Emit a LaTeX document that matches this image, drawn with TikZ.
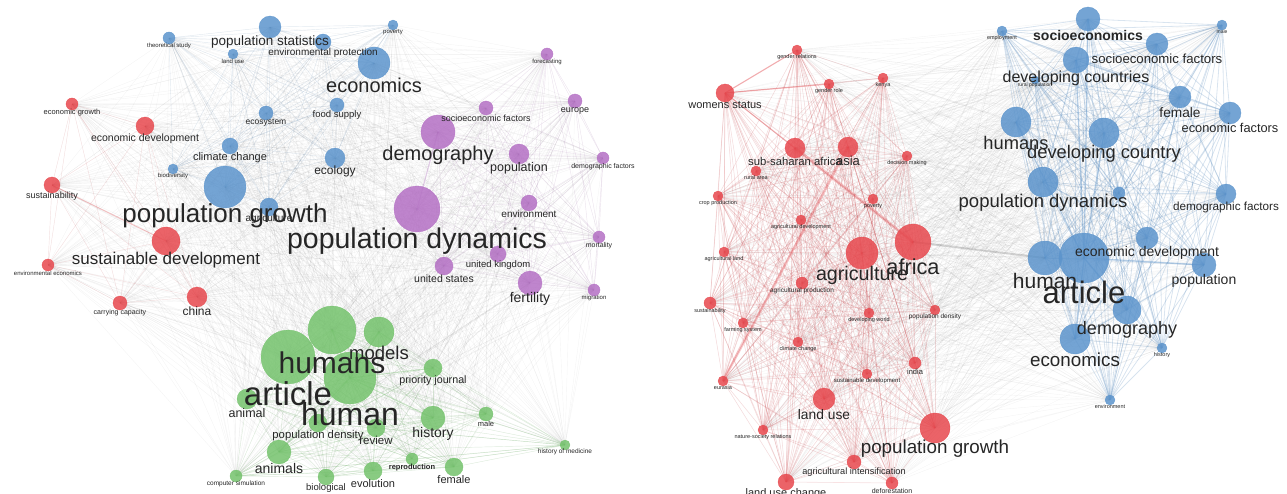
\documentclass[tikz,border=0pt]{standalone}
\usepackage{fontspec}
\setmainfont{Liberation Sans}
\usepackage{tikz}
\usetikzlibrary{positioning,calc}
\pgfdeclarelayer{bg}
\pgfdeclarelayer{fg}
\pgfsetlayers{bg,main,fg}

\definecolor{cB}{RGB}{92,148,204}
\definecolor{cR}{RGB}{231,72,78}
\definecolor{cP}{RGB}{180,112,196}
\definecolor{cG}{RGB}{116,194,108}

\tikzset{
  kw/.style={circle, inner sep=0pt, fill opacity=.85, draw opacity=.9, line width=.3pt},
  lbl/.style={inner sep=0pt, text=black!85},
  gedge/.style={draw=black, opacity=.042, line width=.4pt},
  bedge/.style={draw=cB, opacity=.12, line width=.45pt},
  pedge/.style={draw=cP, opacity=.12, line width=.45pt},
  redge/.style={draw=cR, opacity=.12, line width=.45pt},
  gnedge/.style={draw=cG, opacity=.18, line width=.45pt},
  rbedge/.style={draw=cB, opacity=.2, line width=.8pt},
  rredge/.style={draw=cR, opacity=.14, line width=.6pt}
}

% every pair of a list of keywords
\newcommand\linkall[2]{%
  \foreach \a [count=\i] in #1 {%
    \foreach \b [count=\j] in #1 {%
      \ifnum\j>\i \draw[#2] (\a.center) -- (\b.center);\fi
    }%
  }%
}

\def\lB{tstudy,popstat,envprot,landuse,poverty,econ,food,ecosys,climate,biodiv,ecology,popgrowth,agri}
\def\lP{forecast,europe,sefac,demog,popul,demfac,popdyn,environ,mortal,uk,us,fertil,migr}
\def\lR{econgr,econdev,sustain,susdev,enveco,carry,china}
\def\lG{humans,article,human,models,prior,animal,popdens,review,history,male,histmed,animals,compsim,bio,evol,repro,female}
\edef\lall{\lB,\lP,\lR,\lG}
\def\rR{rgenrel,rgenrole,rkenya,rwomen,rssa,rasia,rdecis,rrural,rcrop,rpov,ragdev,ragland,ragri,rafrica,ragprod,rsustain,rfarm,rdevworld,rpopdens,rclimate,rindia,reurasia,rsusdev,rlanduse,rnature,rpopgr,ragint,rluc,rdefor}
\def\rB{remploy,rsocio,rmale,rsefac,rdevcs,rrurpop,rfemale,recfac,rhumans,rdevcy,rpopdyn,rpovb,rdemfac,recdev,rhuman,rarticle,rpopul,rdemog,recon,rhistory,renviron}
\edef\rall{\rR,\rB}

\begin{document}
\begin{tikzpicture}[x=1pt, y=-1pt]
\useasboundingbox (0,0) rectangle (1287,494);

% keywords: name/x/y/radius/font size/colour/label
\foreach \n/\x/\y/\r/\f/\c/\t in {
  tstudy/169/38/6/6/cB/theoretical study,
  popstat/270/27/11/13.5/cB/population statistics,
  envprot/323/42/8/10/cB/environmental protection,
  landuse/233/54/5/6/cB/land use,
  poverty/393/25/5/6/cB/poverty,
  econ/374/63/16/20/cB/economics,
  food/337/105/7/9.5/cB/food supply,
  ecosys/266/113/7/8.5/cB/ecosystem,
  climate/230/146/8/11/cB/climate change,
  biodiv/173/169/5/6/cB/biodiversity,
  ecology/335/158/10/12/cB/ecology,
  popgrowth/225/187/21/26/cB/population growth,
  agri/269/207/9/10/cB/agriculture,
  forecast/547/54/6/6/cP/forecasting,
  europe/575/101/7/9/cP/europe,
  sefac/486/108/7/9/cP/socioeconomic factors,
  demog/438/132/17/20/cP/demography,
  popul/519/154/10/12.5/cP/population,
  demfac/603/158/6/7/cP/demographic factors,
  popdyn/417/209/23/28.5/cP/population dynamics,
  environ/529/203/8/10/cP/environment,
  mortal/599/237/6/7/cP/mortality,
  uk/498/254/8/9.5/cP/united kingdom,
  us/444/266/9/10.5/cP/united states,
  fertil/530/283/12/14/cP/fertility,
  migr/594/290/6/6/cP/migration,
  econgr/72/104/6/7.5/cR/economic growth,
  econdev/145/126/9/10.5/cR/economic development,
  sustain/52/185/8/9/cR/sustainability,
  susdev/166/241/14/17/cR/sustainable development,
  enveco/48/265/6/6/cR/environmental economics,
  carry/120/303/7/7/cR/carrying capacity,
  china/197/297/10/12/cR/china,
  humans/332/330/24/30/cG/humans,
  article/288/357/27/33/cG/article,
  human/350/378/26/32/cG/human,
  models/379/332/15/18.5/cG/models,
  prior/433/368/9/10.7/cG/priority journal,
  animal/247/399/10/12.5/cG/animal,
  popdens/318/423/9/11.3/cG/population density,
  review/376/428/9/11.5/cG/review,
  history/433/418/12/14/cG/history,
  male/486/414/7/7.5/cG/male,
  histmed/565/445/5/6.5/cG/history of medicine,
  animals/279/452/12/14/cG/animals,
  compsim/236/476/6/6.5/cG/computer simulation,
  bio/326/477/8/9.5/cG/biological,
  evol/373/471/9/11/cG/evolution,
  repro/412/459/6/7.5/cG/\textbf{reproduction},
  female/454/467/9/11/cG/female,
  rgenrel/797/50/5/5.5/cR/gender relations,
  rgenrole/829/84/5/5.5/cR/gender role,
  rkenya/883/78/5/5.5/cR/kenya,
  rwomen/725/93/9/11/cR/womens status,
  rssa/795/148/10/11.3/cR/sub-saharan africa,
  rasia/848/147/10/13/cR/asia,
  rdecis/907/156/5/5.5/cR/decision making,
  rrural/756/171/5/5.5/cR/rural area,
  rcrop/718/196/5/5.5/cR/crop production,
  rpov/873/199/5/5.5/cR/poverty,
  ragdev/801/220/5/5.5/cR/agricultural development,
  ragland/724/252/5/5.5/cR/agricultural land,
  ragri/862/253/16/19.7/cR/agriculture,
  rafrica/913/242/18/21.7/cR/africa,
  ragprod/802/283/6/6.5/cR/agricultural production,
  rsustain/710/303/6/5.5/cR/sustainability,
  rfarm/743/323/5/5.5/cR/farming system,
  rdevworld/869/313/5/5.5/cR/developing world,
  rpopdens/935/310/5/6.5/cR/population density,
  rclimate/798/342/5/5.5/cR/climate change,
  rindia/915/363/6/7.5/cR/india,
  reurasia/723/381/5/5.5/cR/eurasia,
  rsusdev/867/374/5/6/cR/sustainable development,
  rlanduse/824/399/11/13.8/cR/land use,
  rnature/763/430/5/5.5/cR/nature-society relations,
  rpopgr/935/428/15/18.8/cR/population growth,
  ragint/854/462/7/9.2/cR/agricultural intensification,
  rluc/786/482/8/11/cR/land use change,
  rdefor/892/483/6/7/cR/deforestation,
  remploy/1002/31/5/5.5/cB/employment,
  rsocio/1088/19/12/14/cB/\textbf{socioeconomics},
  rmale/1222/25/5/5/cB/male,
  rsefac/1157/44/11/13.2/cB/socioeconomic factors,
  rdevcs/1076/60/13/16/cB/developing countries,
  rrurpop/1035/80/4/5/cB/rural population,
  rfemale/1180/97/11/13.7/cB/female,
  recfac/1230/113/11/12.8/cB/economic factors,
  rhumans/1016/122/15/18.3/cB/humans,
  rdevcy/1104/133/15/18.3/cB/developing country,
  rpopdyn/1043/182/15/18.5/cB/population dynamics,
  rpovb/1119/193/6/5/cB/{},
  rdemfac/1226/194/10/11.7/cB/demographic factors,
  recdev/1147/238/11/14/cB/economic development,
  rhuman/1045/258/17/21/cB/human,
  rarticle/1084/258/25/31/cB/article,
  rpopul/1204/265/12/14/cB/population,
  rdemog/1127/310/14/18/cB/demography,
  recon/1075/339/15/18.8/cB/economics,
  rhistory/1162/348/5/5.5/cB/history,
  renviron/1110/400/5/5.5/cB/environment}{
  \node[kw, fill=\c, draw=\c, minimum size=2*\r pt] (\n) at (\x,\y) {};
  \begin{pgfonlayer}{fg}
    \node[lbl, font=\fontsize{\f}{\f}\selectfont, yshift=-.3*\f pt] (\n-t) at (\n.south) {\t};
  \end{pgfonlayer}
}

% links
\begin{pgfonlayer}{bg}
\linkall{\lall}{gedge}
\linkall{\lB}{bedge}
\linkall{\lP}{pedge}
\linkall{\lR}{redge}
\linkall{\lG}{gnedge}
\linkall{\rall}{gedge}
\linkall{\rR}{rredge}
\linkall{\rB}{rbedge}

% strong links
\draw[rredge, line width=3pt, opacity=.3] (rssa.center) -- (rafrica.center);
\draw[rredge, line width=2.5pt, opacity=.3] (rasia.center) -- (reurasia.center);
\draw[rredge, line width=1.2pt, opacity=.35] (rwomen.center) -- (rgenrole.center);
\draw[rredge, line width=1.2pt, opacity=.35] (rwomen.center) -- (rgenrel.center);
\draw[rredge, line width=1.2pt, opacity=.3] (rwomen.center) -- (rssa.center);
\draw[gedge, line width=2pt, opacity=.15] (rafrica.center) -- (rhuman.center);
\foreach \b in {rdevcs,rdevcy,rdemog,recon,rpopul,rhumans,rsocio}
  \draw[rbedge, line width=1.5pt, opacity=.3] (rarticle.center) -- (\b.center);
\foreach \b in {humans,models,history,prior,animals}
  \draw[gnedge, line width=1.2pt, opacity=.25] (human.center) -- (\b.center);
\draw[pedge, line width=1.2pt, opacity=.25] (demog.center) -- (popdyn.center);
\draw[redge, line width=1pt, opacity=.25] (sustain.center) -- (susdev.center);
\end{pgfonlayer}

\end{tikzpicture}
\end{document}
